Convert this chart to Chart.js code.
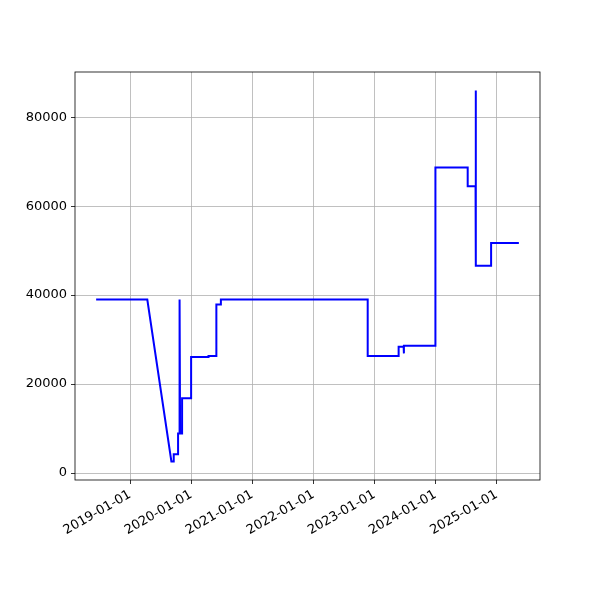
<!DOCTYPE html>
<html>
<head>
<meta charset="utf-8">
<script src="https://cdn.jsdelivr.net/npm/chart.js@4/dist/chart.umd.min.js"></script>
<style>
  body { margin: 0; background: #fff; }
  #wrap { width: 600px; height: 600px; }
</style>
</head>
<body>
<div id="wrap"><canvas id="myChart" width="600" height="600"></canvas></div>
<script>
// values
const dates = [
  "2018-06-12", "2019-04-14", "2019-09-05", "2019-09-19", "2019-09-19",
  "2019-10-15", "2019-10-15", "2019-10-23", "2019-10-24", "2019-10-27",
  "2019-11-08", "2019-11-08", "2020-01-01", "2020-01-01", "2020-04-14",
  "2020-04-14", "2020-05-31", "2020-05-31", "2020-06-27", "2020-06-27",
  "2022-11-22", "2022-11-22", "2023-05-26", "2023-05-26", "2023-06-25",
  "2023-06-26", "2023-06-27", "2024-01-01", "2024-01-01", "2024-07-12",
  "2024-07-12", "2024-08-28", "2024-08-29", "2024-08-30", "2024-11-29",
  "2024-11-29", "2025-05-14"
];
const values = [
  39000, 39000, 2600, 2600, 4200,
  4200, 8900, 8900, 39000, 8900,
  8900, 16800, 16800, 26100, 26100,
  26300, 26300, 37900, 37900, 39000,
  39000, 26300, 26300, 28400, 28400,
  26900, 28600, 28600, 68700, 68700,
  64500, 64500, 86000, 46600, 46600,
  51700, 51700
];
const yearTicks = ["2019-01-01", "2020-01-01", "2021-01-01", "2022-01-01", "2023-01-01", "2024-01-01", "2025-01-01"];
const yTicks = [0, 20000, 40000, 60000, 80000];

const toMs = s => Date.parse(s + "T00:00:00Z");
const pts = dates.map((d, i) => ({ x: toMs(d), y: values[i] }));

const xs = pts.map(p => p.x), ys = pts.map(p => p.y);
const xPad = (Math.max(...xs) - Math.min(...xs)) * 0.05;
const yPad = (Math.max(...ys) - Math.min(...ys)) * 0.05;

function fmtDate(ms) {
  const d = new Date(ms);
  const mm = String(d.getUTCMonth() + 1).padStart(2, "0");
  const dd = String(d.getUTCDate()).padStart(2, "0");
  return d.getUTCFullYear() + "-" + mm + "-" + dd;
}

const frame = {
  id: "frame",
  afterDatasetsDraw(chart) {
    const a = chart.chartArea, c = chart.ctx;
    c.save();
    c.strokeStyle = "#000";
    c.lineWidth = 0.8;
    c.strokeRect(a.left, a.top, a.right - a.left, a.bottom - a.top);
    c.restore();
  }
};

new Chart(document.getElementById("myChart").getContext("2d"), {
  type: "line",
  data: {
    datasets: [{
      data: pts,
      borderColor: "#0000ff",
      borderWidth: 2,
      pointRadius: 0,
      tension: 0,
      fill: false
    }]
  },
  options: {
    responsive: false,
    animation: false,
    layout: { padding: { top: 72, right: 60, left: 0, bottom: 0 } },
    plugins: { legend: { display: false }, tooltip: { enabled: false } },
    scales: {
      x: {
        type: "linear",
        min: Math.min(...xs) - xPad,
        max: Math.max(...xs) + xPad,
        afterBuildTicks: s => { s.ticks = yearTicks.map(t => ({ value: toMs(t) })); },
        afterFit: s => { s.height = 120; },
        border: { display: false },
        grid: { color: "#b0b0b0", lineWidth: 0.8, tickLength: 4, tickColor: "#000" },
        ticks: {
          minRotation: 30, maxRotation: 30, padding: 3,
          color: "#000",
          font: { family: "DejaVu Sans", size: 13 },
          callback: v => fmtDate(v)
        }
      },
      y: {
        min: Math.min(...ys) - yPad,
        max: Math.max(...ys) + yPad,
        afterBuildTicks: s => { s.ticks = yTicks.map(v => ({ value: v })); },
        afterFit: s => { s.width = 75; },
        border: { display: false },
        grid: { color: "#b0b0b0", lineWidth: 0.8, tickLength: 4, tickColor: "#000" },
        ticks: {
          padding: 4,
          color: "#000",
          font: { family: "DejaVu Sans", size: 13 },
          callback: v => String(v)
        }
      }
    }
  },
  plugins: [frame]
});
</script>
</body>
</html>
